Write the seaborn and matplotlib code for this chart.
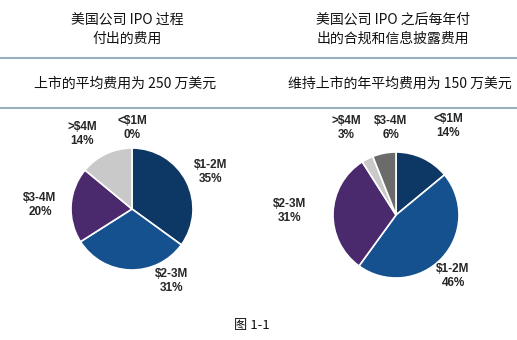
import matplotlib
matplotlib.use("Agg")
import matplotlib.pyplot as plt
import seaborn as sns

sns.set_theme(style="white")
plt.rcParams['font.family'] = ['Noto Sans CJK SC', 'DejaVu Sans']

# Data
left_title = "美国公司 IPO 过程\n付出的费用"
right_title = "美国公司 IPO 之后每年付\n出的合规和信息披露费用"
left_sub = "上市的平均费用为 250 万美元"
right_sub = "维持上市的年平均费用为 150 万美元"
caption = "图 1-1"

left_labels = ["<$1M", "$1-2M", "$2-3M", "$3-4M", ">$4M"]
left_values = [0, 35, 31, 20, 14]
right_labels = ["<$1M", "$1-2M", "$2-3M", ">$4M", "$3-4M"]
right_values = [14, 46, 31, 3, 6]

left_colors = ["#0d3865", "#0d3865", "#15508f", "#4a2a6d", "#c9c9c9"]
right_colors = ["#0d3865", "#15508f", "#4a2a6d", "#c9c9c9", "#6b6b6b"]

# label positions (pixel coordinates of the label's center)
left_label_pos = [(132, 128), (211, 172), (172, 281), (40, 205), (82, 134)]
right_label_pos = [(448, 126), (453, 276), (290, 211), (346, 128), (391, 128)]

W, H = 517, 340
fig = plt.figure(figsize=(W / 100, H / 100), dpi=100)
fig.patch.set_facecolor("white")


def px(x, y):
    return x / W, 1 - y / H


def pie_axes(cx, cy, r):
    ax = fig.add_axes([(cx - r) / W, (H - cy - r) / H, 2 * r / W, 2 * r / H])
    return ax


def finish(ax):
    ax.set_xlim(-1, 1)
    ax.set_ylim(-1, 1)
    ax.set_aspect("equal")
    ax.axis("off")


axL = pie_axes(132, 209, 61)
axL.pie(left_values, colors=left_colors, startangle=90, counterclock=False,
        radius=1, wedgeprops=dict(edgecolor="white", linewidth=1.2))
finish(axL)
axR = pie_axes(396, 215, 63)
axR.pie(right_values, colors=right_colors, startangle=90, counterclock=False,
        radius=1, wedgeprops=dict(edgecolor="white", linewidth=1.2))
finish(axR)

for labels, values, pos in [(left_labels, left_values, left_label_pos),
                            (right_labels, right_values, right_label_pos)]:
    for lab, v, (x, y) in zip(labels, values, pos):
        fig.text(*px(x, y), f"{lab}\n{v}%", ha="center", va="center",
                 fontsize=8.5, fontweight="bold", color="#262626",
                 family=["Liberation Sans"], linespacing=1.3)

# titles
fig.text(*px(127, 29), left_title, ha="center", va="center", fontsize=10,
         color="#111111", linespacing=1.5)
fig.text(*px(393, 29), right_title, ha="center", va="center", fontsize=10,
         color="#111111", linespacing=1.5)
fig.text(*px(125, 84), left_sub, ha="center", va="center", fontsize=10,
         color="#111111")
fig.text(*px(400, 84), right_sub, ha="center", va="center", fontsize=10,
         color="#111111")
fig.text(*px(252, 326), caption, ha="center", va="center", fontsize=9.5,
         color="#111111")

# separator lines
for y in (58, 108):
    fig.add_artist(plt.Line2D([0, 1], [1 - y / H] * 2, color="#9ab0bf",
                              linewidth=1.5, transform=fig.transFigure))

fig.savefig("out.png", dpi=100, facecolor="white")
